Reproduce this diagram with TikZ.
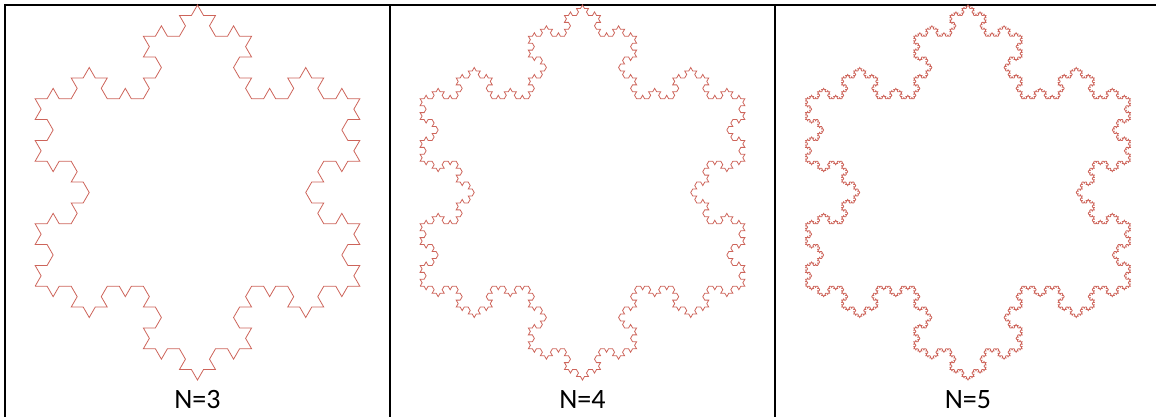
\documentclass[tikz,border=0pt]{standalone}
\usepackage{fontspec}
\setmainfont{Carlito}
\usetikzlibrary{lindenmayersystems}
\pgfdeclarelindenmayersystem{Koch curve}{\rule{F -> F-F++F-F}}
\definecolor{kochred}{RGB}{205,100,90}
\tikzset{
  border/.style={line width=2pt, black},
  koch/.style={kochred, line width=0.8pt, line join=miter},
  caption/.style={anchor=base, inner sep=0pt, font=\fontsize{28}{30}\selectfont}
}
\begin{document}
\begin{tikzpicture}[x=1pt,y=1pt]
\useasboundingbox (0,0) rectangle (1156,-417);
% table lines
\draw[border] (4,-5) -- (1160,-5);
\draw[border] (5,-4) -- (5,-420);
\draw[border] (389.5,-5) -- (389.5,-420);
\draw[border] (775,-5) -- (775,-420);
% snowflakes (R = 187.5, centre y = -192.5)
\begin{scope}[shift={(35.1,-286.25)}]
\draw[koch, l-system={Koch curve, axiom=F++F++F, order=3, step=12.028pt, angle=60}] lindenmayer system;
\end{scope}
\begin{scope}[shift={(420.1,-286.25)}]
\draw[koch, l-system={Koch curve, axiom=F++F++F, order=4, step=4.0093pt, angle=60}] lindenmayer system;
\end{scope}
\begin{scope}[shift={(805.6,-286.25)}]
\draw[koch, l-system={Koch curve, axiom=F++F++F, order=5, step=1.3364pt, angle=60}] lindenmayer system;
\end{scope}
% captions
\node[caption] (n3) at (197.5,-408) {N=3};
\node[caption] (n4) at (582.5,-408) {N=4};
\node[caption] (n5) at (968,-408) {N=5};
\end{tikzpicture}
\end{document}
